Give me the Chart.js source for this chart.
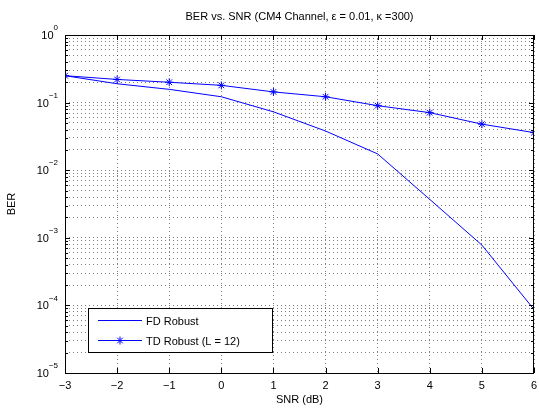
<!DOCTYPE html>
<html>
<head>
<meta charset="utf-8">
<script src="https://cdn.jsdelivr.net/npm/chart.js@4/dist/chart.umd.min.js"></script>
<style>
  html, body { margin: 0; padding: 0; background: #fff; }
  #wrap { width: 539px; height: 408px; }
</style>
</head>
<body>
<div id="wrap"><canvas id="ber"></canvas></div>
<script>
// SNR points (dB)
var snr = [-3, -2, -1, 0, 1, 2, 3, 4, 5, 6];
// BER
var fdRobust = [0.25, 0.19, 0.157, 0.122, 0.073, 0.038, 0.0174, 0.0037, 0.00078, 0.000087];
var tdRobust = [0.25, 0.22, 0.20, 0.18, 0.144, 0.122, 0.090, 0.071, 0.048, 0.036];
var seriesNames = ["FD Robust", "TD Robust (L = 12)"];
var titleText = "BER vs. SNR (CM4 Channel, \u03b5 = 0.01, \u03ba =300)";
var xTitle = "SNR (dB)";
var yTitle = "BER";
var yExponents = [-5, -4, -3, -2, -1, 0];

var FONT = "Liberation Sans, Arial, Helvetica, sans-serif";
var BLUE = "#0000ff";
var GRID = 'rgba(0,0,0,0.5)';

function pts(ys) {
    return snr.map(function (x, i) { return { x: x, y: ys[i] }; });
}

// frame, inward ticks, y tick labels with superscripts, titles, legend
var matlabLook = {
    id: 'matlabLook',
    afterDraw: function (c) {
        var ctx = c.ctx, a = c.chartArea;
        var xs = c.scales.x, ys = c.scales.y;
        ctx.save();
        ctx.strokeStyle = '#000';
        ctx.lineWidth = 1;
        ctx.strokeRect(Math.round(a.left) + 0.5, Math.round(a.top) + 0.5,
                       Math.round(a.right - a.left) - 1, Math.round(a.bottom - a.top));

        // inward ticks
        ctx.beginPath();
        snr.forEach(function (v) {
            var px = Math.round(xs.getPixelForValue(v)) + 0.5;
            ctx.moveTo(px, a.bottom); ctx.lineTo(px, a.bottom - 5);
            ctx.moveTo(px, a.top); ctx.lineTo(px, a.top + 5);
        });
        ys.ticks.forEach(function (t) {
            var py = Math.round(ys.getPixelForValue(t.value)) + 0.5;
            var len = t.major ? 5 : 3;
            ctx.moveTo(a.left, py); ctx.lineTo(a.left + len, py);
            ctx.moveTo(a.right, py); ctx.lineTo(a.right - len, py);
        });
        ctx.stroke();

        ctx.fillStyle = '#000';
        // y tick labels: 10^n
        yExponents.forEach(function (e) {
            var py = ys.getPixelForValue(Math.pow(10, e));
            var sup = String(e).replace('-', '\u2212');
            ctx.textBaseline = 'middle';
            ctx.font = '8px ' + FONT;
            var sw = ctx.measureText(sup).width;
            ctx.textAlign = 'left';
            ctx.fillText(sup, a.left - 7 - sw, py - 7);
            ctx.font = '11px ' + FONT;
            ctx.textAlign = 'right';
            ctx.fillText('10', a.left - 7 - sw, py + 1);
        });

        // titles
        ctx.font = '11px ' + FONT;
        ctx.textAlign = 'center';
        ctx.textBaseline = 'middle';
        ctx.fillText(titleText, (a.left + a.right) / 2, 17);
        ctx.fillText(xTitle, (a.left + a.right) / 2, 400);
        ctx.save();
        ctx.translate(12, (a.top + a.bottom) / 2);
        ctx.rotate(-Math.PI / 2);
        ctx.fillText(yTitle, 0, 0);
        ctx.restore();

        // legend
        var lx = a.left + 23, ly = a.bottom - 65, lw = 184, lh = 44;
        ctx.fillStyle = '#fff';
        ctx.fillRect(lx, ly, lw, lh);
        ctx.strokeStyle = '#000';
        ctx.strokeRect(lx + 0.5, ly + 0.5, lw, lh);
        c.data.datasets.forEach(function (ds, i) {
            var ry = ly + 12.5 + i * 20;
            ctx.strokeStyle = ds.borderColor;
            ctx.lineWidth = 1;
            ctx.beginPath();
            ctx.moveTo(lx + 10, ry); ctx.lineTo(lx + 54, ry);
            ctx.stroke();
            if (ds.pointRadius > 0) {
                Chart.helpers.drawPoint(ctx, {
                    pointStyle: ds.pointStyle, radius: ds.pointRadius,
                    borderWidth: 1, rotation: 0
                }, lx + 32, ry);
            }
            ctx.fillStyle = '#000';
            ctx.font = '11px ' + FONT;
            ctx.textAlign = 'left';
            ctx.fillText(ds.label, lx + 58, ry + 1);
        });
        ctx.restore();
    }
};

new Chart(document.getElementById('ber'), {
    type: 'line',
    data: {
        datasets: [{
            label: seriesNames[0],
            data: pts(fdRobust),
            borderColor: BLUE,
            backgroundColor: BLUE,
            borderWidth: 1,
            pointRadius: 0,
            tension: 0
        }, {
            label: seriesNames[1],
            data: pts(tdRobust),
            borderColor: BLUE,
            backgroundColor: BLUE,
            borderWidth: 1,
            pointStyle: 'star',
            pointRadius: 4,
            pointBorderWidth: 1,
            tension: 0
        }]
    },
    options: {
        responsive: true,
        maintainAspectRatio: false,
        animation: false,
        layout: { padding: { top: 35, right: 3, left: 0, bottom: 0 } },
        plugins: { legend: { display: false }, tooltip: { enabled: false } },
        scales: {
            x: {
                type: 'linear',
                min: -3, max: 6,
                afterFit: function (s) {
                    s.height = 35;
                    s.paddingLeft = 0;
                    s.paddingRight = 0;
                },
                ticks: {
                    stepSize: 1,
                    padding: 6,
                    color: '#000',
                    font: { size: 11, family: FONT },
                    callback: function (v) { return String(v).replace('-', '\u2212'); }
                },
                grid: { color: GRID, drawTicks: false },
                border: { display: false, dash: [1, 3] }
            },
            y: {
                type: 'logarithmic',
                min: 1e-5, max: 1,
                afterFit: function (s) { s.width = 65; },
                afterBuildTicks: function (s) {
                    var t = [];
                    for (var e = -5; e <= 0; e++) {
                        for (var m = 1; m <= 9; m++) {
                            var v = m * Math.pow(10, e);
                            if (v > 1.0000001) break;
                            t.push({ value: v, major: m === 1 });
                        }
                    }
                    s.ticks = t;
                },
                ticks: { display: false },
                grid: { color: GRID, drawTicks: false },
                border: { display: false, dash: [1, 3] }
            }
        }
    },
    plugins: [matlabLook]
});
</script>
</body>
</html>
